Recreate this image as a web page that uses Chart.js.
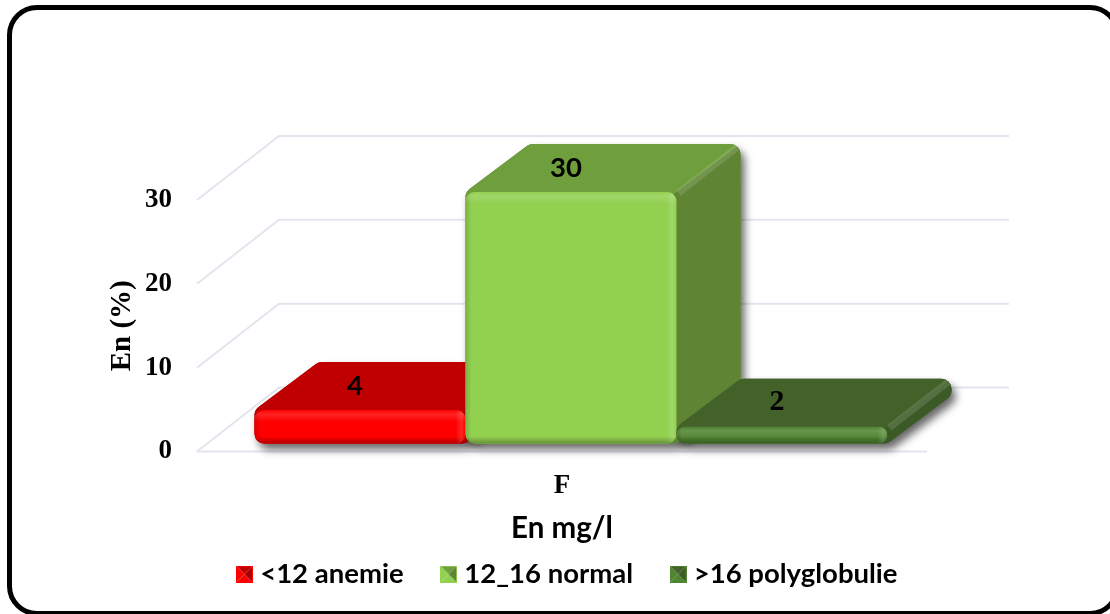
<!DOCTYPE html>
<html>
<head>
<meta charset="utf-8">
<title>En mg/l</title>
<script src="https://cdn.jsdelivr.net/npm/chart.js@4/dist/chart.umd.min.js"></script>
<style>
    html, body { margin: 0; padding: 0; background: #fff; overflow: hidden; }
    #frame { position: absolute; left: 7px; top: 5px; width: 1103px; height: 601px; border: 5px solid #000; border-radius: 30px; }
    #chart { position: absolute; left: 0; top: 0; }
</style>
</head>
<body>
<div id="frame"></div>
<canvas id="chart" width="1110" height="614"></canvas>
<script>
// Data
const categories = ['F'];
const seriesNames = ['<12 anemie', '12_16 normal', '>16 polyglobulie'];
const anemie = [4];
const normal = [30];
const polyglobulie = [2];
const yTicks = [0, 10, 20, 30];

// Colours: front, top, side for each series
const frontColors = ['#fe0000', '#92d050', '#4f8430'];
const topColors = ['#c00000', '#6f9e3c', '#42622a'];
const sideColors = ['#a80000', '#5f8434', '#3b5a26'];
const labelFonts = ['bold 27.5px Lato', 'bold 27.5px Lato', 'bold 30px "Liberation Serif"'];

// Depth of the fake 3D view
const FLOOR_DX = 82, FLOOR_DY = 64;   // walls
const BAR_DX = 64, BAR_DY = 48;       // bars
const SHIFT_X = 9, SHIFT_Y = -8;      // bar plane sits behind the front of the floor

// Polygon with rounded corners
function roundedPoly(ctx, pts, r) {
    ctx.beginPath();
    const n = pts.length;
    ctx.moveTo((pts[0][0] + pts[n - 1][0]) / 2, (pts[0][1] + pts[n - 1][1]) / 2);
    for (let i = 0; i < n; i++) {
        const a = pts[i], b = pts[(i + 1) % n];
        ctx.arcTo(a[0], a[1], b[0], b[1], r);
    }
    ctx.closePath();
}

function barBox(el) {
    const p = el.getProps(['x', 'y', 'base', 'width'], true);
    return { x0: p.x - p.width / 2, x1: p.x + p.width / 2, top: p.y, bottom: p.base, cx: p.x };
}

function silhouette(ctx, b) {
    roundedPoly(ctx, [[b.x0, b.bottom], [b.x0, b.top], [b.x0 + BAR_DX, b.top - BAR_DY],
        [b.x1 + BAR_DX, b.top - BAR_DY], [b.x1 + BAR_DX, b.bottom - BAR_DY], [b.x1, b.bottom]], 10);
}

function drawWalls(chart) {
    const { ctx, chartArea, scales } = chart;
    ctx.save();
    ctx.strokeStyle = '#e3e5ee';
    ctx.lineWidth = 2;
    yTicks.forEach(v => {
        const py = scales.y.getPixelForValue(v);
        ctx.beginPath();
        ctx.moveTo(chartArea.left, py);
        ctx.lineTo(chartArea.left + FLOOR_DX, py - FLOOR_DY);
        ctx.lineTo(chartArea.right + FLOOR_DX, py - FLOOR_DY);
        ctx.stroke();
    });
    const floor = scales.y.getPixelForValue(0);
    ctx.beginPath();
    ctx.moveTo(chartArea.left, floor);
    ctx.lineTo(chartArea.right, floor);
    ctx.stroke();
    ctx.restore();
}

function drawBackFaces(ctx, el, i) {
    const b = barBox(el);
    ctx.fillStyle = topColors[i];
    silhouette(ctx, b);
    ctx.fill();
    // side
    ctx.save();
    silhouette(ctx, b);
    ctx.clip();
    ctx.fillStyle = sideColors[i];
    ctx.beginPath();
    ctx.moveTo(b.x1 - 8, b.top + 6);
    ctx.lineTo(b.x1 + BAR_DX, b.top - BAR_DY);
    ctx.lineTo(b.x1 + BAR_DX + 4, b.bottom);
    ctx.lineTo(b.x1 - 8, b.bottom);
    ctx.closePath();
    ctx.fill();
    // light edge between top and side
    ctx.strokeStyle = 'rgba(255,255,255,0.13)';
    ctx.lineWidth = 7;
    ctx.beginPath();
    ctx.moveTo(b.x1 + 2, b.top + 1);
    ctx.lineTo(b.x1 + BAR_DX - 3, b.top - BAR_DY + 3);
    ctx.stroke();
    ctx.restore();
}

function drawBevel(ctx, el) {
    const b = barBox(el);
    const w = b.x1 - b.x0, h = b.bottom - b.top;
    ctx.save();
    ctx.beginPath();
    ctx.roundRect(b.x0, b.top, w, h, 9);
    ctx.clip();
    let g = ctx.createLinearGradient(0, b.top, 0, b.top + 12);
    g.addColorStop(0, 'rgba(255,255,255,0.0)');
    g.addColorStop(0.35, 'rgba(255,255,255,0.14)');
    g.addColorStop(1, 'rgba(255,255,255,0)');
    ctx.fillStyle = g;
    ctx.fillRect(b.x0, b.top, w, 12);
    g = ctx.createLinearGradient(0, b.bottom - 7, 0, b.bottom);
    g.addColorStop(0, 'rgba(0,0,0,0)');
    g.addColorStop(1, 'rgba(0,0,0,0.3)');
    ctx.fillStyle = g;
    ctx.fillRect(b.x0, b.bottom - 7, w, 7);
    g = ctx.createLinearGradient(b.x1 - 10, 0, b.x1, 0);
    g.addColorStop(0, 'rgba(255,255,255,0)');
    g.addColorStop(0.6, 'rgba(255,255,255,0.14)');
    g.addColorStop(1, 'rgba(255,255,255,0)');
    ctx.fillStyle = g;
    ctx.fillRect(b.x1 - 10, b.top, 10, h);
    g = ctx.createLinearGradient(b.x0, 0, b.x0 + 6, 0);
    g.addColorStop(0, 'rgba(0,0,0,0.14)');
    g.addColorStop(1, 'rgba(0,0,0,0)');
    ctx.fillStyle = g;
    ctx.fillRect(b.x0, b.top, 6, h);
    ctx.restore();
}

// Bars are drawn left to right so each one covers the side of the one before
const bars3dPlugin = {
    id: 'bars3d',
    beforeDatasetDraw() {
        return false;
    },
    beforeDatasetsDraw(chart) {
        const { ctx } = chart;
        drawWalls(chart);
        const metas = chart.data.datasets.map((ds, i) => chart.getDatasetMeta(i));
        ctx.save();
        ctx.translate(SHIFT_X, SHIFT_Y);
        // shadows first, on the floor only
        metas.forEach((meta, i) => meta.data.forEach(el => {
            ctx.save();
            ctx.shadowColor = 'rgba(0,0,0,0.6)';
            ctx.shadowBlur = 9;
            ctx.shadowOffsetX = 4;
            ctx.shadowOffsetY = 6;
            ctx.fillStyle = sideColors[i];
            silhouette(ctx, barBox(el));
            ctx.fill();
            ctx.restore();
        }));
        metas.forEach((meta, i) => {
            meta.data.forEach(el => drawBackFaces(ctx, el, i));
            meta.controller.draw();
            meta.data.forEach(el => drawBevel(ctx, el));
        });
        ctx.fillStyle = '#000';
        ctx.textAlign = 'center';
        ctx.textBaseline = 'middle';
        metas.forEach((meta, i) => meta.data.forEach((el, j) => {
            const b = barBox(el);
            ctx.font = labelFonts[i];
            ctx.fillText(chart.data.datasets[i].data[j], b.cx - 5, b.top - BAR_DY / 2);
        }));
        ctx.restore();
    }
};

// Small pyramid squares for the legend
function legendIcon(i) {
    const c = document.createElement('canvas');
    c.width = 17; c.height = 17;
    const g = c.getContext('2d');
    const m = 8.5, s = 17;
    const tri = (x1, y1, x2, y2, col) => {
        g.fillStyle = col;
        g.beginPath();
        g.moveTo(x1, y1); g.lineTo(x2, y2); g.lineTo(m, m);
        g.closePath();
        g.fill();
    };
    tri(0, 0, s, 0, topColors[i]);
    tri(0, s, s, s, frontColors[i]);
    tri(0, 0, 0, s, frontColors[i]);
    tri(s, 0, s, s, sideColors[i]);
    g.strokeStyle = frontColors[i];
    g.lineWidth = 1;
    g.strokeRect(0.5, 0.5, s - 1, s - 1);
    return c;
}

const seriesValues = [anemie, normal, polyglobulie];

new Chart(document.getElementById('chart'), {
    type: 'bar',
    data: {
        labels: categories,
        datasets: seriesNames.map((name, i) => ({
            label: name,
            data: seriesValues[i],
            backgroundColor: frontColors[i],
            borderRadius: 9,
            borderSkipped: false
        }))
    },
    options: {
        responsive: false,
        animation: false,
        layout: { padding: { left: 30, top: 200, right: 0, bottom: 16 } },
        datasets: { bar: { categoryPercentage: 0.867, barPercentage: 1 } },
        plugins: {
            tooltip: { enabled: false },
            legend: {
                position: 'bottom',
                labels: {
                    usePointStyle: true,
                    boxWidth: 4,
                    padding: 43,
                    color: '#000',
                    font: { family: 'Lato', weight: 'bold', size: 27.5 },
                    generateLabels(chart) {
                        return chart.data.datasets.map((d, i) => ({
                            text: d.label,
                            pointStyle: legendIcon(i),
                            datasetIndex: i,
                            lineWidth: 0,
                            fontColor: '#000',
                            hidden: false
                        }));
                    }
                }
            }
        },
        scales: {
            x: {
                grid: { display: false },
                border: { display: false },
                afterFit(s) { s.height = 66; },
                ticks: {
                    padding: 10,
                    color: '#000',
                    font: { family: 'Liberation Serif', weight: 'bold', size: 27 }
                },
                title: {
                    display: true,
                    text: 'En mg/l',
                    color: '#000',
                    font: { family: 'Lato', weight: 'bold', size: 29.5 },
                    padding: { top: 0, bottom: -29 }
                }
            },
            y: {
                min: 0,
                max: 30,
                position: 'left',
                grid: { display: false, drawTicks: false },
                border: { display: false },
                afterFit(s) { s.width = 167; },
                afterBuildTicks(s) { s.ticks = yTicks.map(v => ({ value: v })); },
                ticks: {
                    padding: 25,
                    labelOffset: 0,
                    color: '#000',
                    font: { family: 'Liberation Serif', weight: 'bold', size: 27 }
                },
                title: {
                    display: true,
                    text: 'En (%)',
                    color: '#000',
                    font: { family: 'Liberation Serif', weight: 'bold', size: 29 },
                    padding: { top: 75, bottom: 0 }
                }
            },
            // empty axis, only holds the space on the right of the floor
            spare: {
                position: 'right',
                grid: { display: false },
                border: { display: false },
                ticks: { display: false },
                afterFit(s) { s.width = 183; }
            }
        }
    },
    plugins: [bars3dPlugin]
});
</script>
</body>
</html>
